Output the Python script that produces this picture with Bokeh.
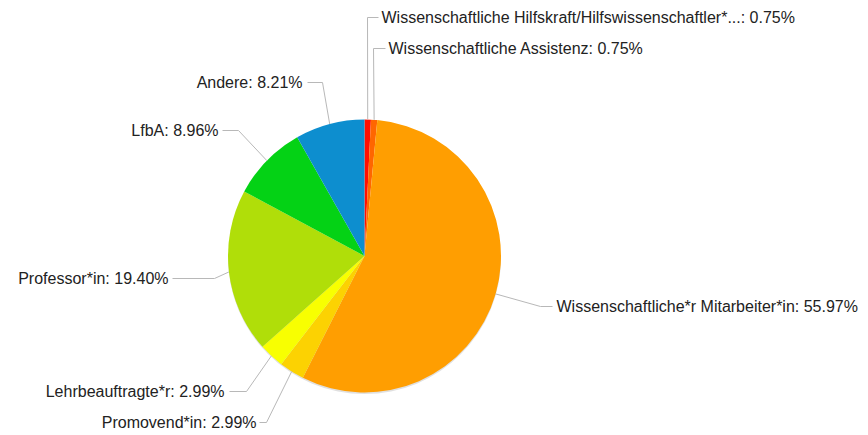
import math
from bokeh.plotting import figure
from bokeh.models import Range1d, ColumnDataSource
from bokeh.core.properties import value
from bokeh.embed import file_html
from bokeh.resources import INLINE

# ---- data ----
categories = [
    "Wissenschaftliche Hilfskraft/Hilfswissenschaftler*...",
    "Wissenschaftliche Assistenz",
    "Wissenschaftliche*r Mitarbeiter*in",
    "Promovend*in",
    "Lehrbeauftragte*r",
    "Professor*in",
    "LfbA",
    "Andere",
]
percents = [0.75, 0.75, 55.97, 2.99, 2.99, 19.40, 8.96, 8.21]
colors = ["#FF0F00", "#FF6600", "#FF9E01", "#FCD202", "#F8FF01", "#B0DE09", "#04D215", "#0D8ECF"]

# ---- layout (pixel coords, y down) ----
W, H = 868, 435
CX, CY, R = 364, 255.5, 136.5
# label line y, elbow x, text x, text align
label_y = [17, 48, 306, 422, 391, 278, 130, 82]
elbow_x = [367, 373, 540, 266, 246, 214, 238, 322]
line_end_x = [378, 385, 552, 259, 229, 172, 222, 307]
text_x = [381, 388, 556, 256, 224, 168, 218, 302]
align = ["left", "left", "left", "right", "right", "right", "right", "right"]

def fy(y):
    return H - y

p = figure(width=W, height=H, output_backend="svg", toolbar_location=None,
           x_range=Range1d(0, W), y_range=Range1d(0, H), min_border=0)
p.axis.visible = False
p.grid.visible = False
p.outline_line_color = None
p.background_fill_color = "white"

total = sum(percents)
starts, ends, mids = [], [], []
cum = 0.0
for v in percents:
    a0 = cum / total * 2 * math.pi
    cum += v
    a1 = cum / total * 2 * math.pi
    starts.append(math.pi / 2 - a0)
    ends.append(math.pi / 2 - a1)
    mids.append((a0 + a1) / 2)

src = ColumnDataSource(dict(start=starts, end=ends, color=colors))
# subtle shadow rim
p.wedge(x=CX, y=fy(CY) - 1.5, radius=R, start_angle=math.pi, end_angle=2 * math.pi,
        fill_color="#000000", fill_alpha=0.12, line_color=None)
p.wedge(x=CX, y=fy(CY), radius=R, start_angle="start", end_angle="end", direction="clock",
        fill_color="color", line_color=None, source=src)

# label lines
xs, ys = [], []
for i, m in enumerate(mids):
    ex = CX + R * math.sin(m)
    ey = CY - R * math.cos(m)
    xs.append([ex, elbow_x[i], line_end_x[i]])
    ys.append([fy(ey), fy(label_y[i]), fy(label_y[i])])
p.multi_line(xs=xs, ys=ys, line_color="#b8b8b8", line_width=1)

texts = [f"{c}: {v:.2f}%" for c, v in zip(categories, percents)]
lsrc = ColumnDataSource(dict(x=text_x, y=[fy(y) for y in label_y], t=texts, a=align))
p.text(x="x", y="y", text="t", text_align="a", text_baseline="middle",
       text_font=value("Liberation Sans"), text_font_size="16px", text_color="#222222",
       source=lsrc)

open("out.html", "w").write(file_html(p, INLINE))
